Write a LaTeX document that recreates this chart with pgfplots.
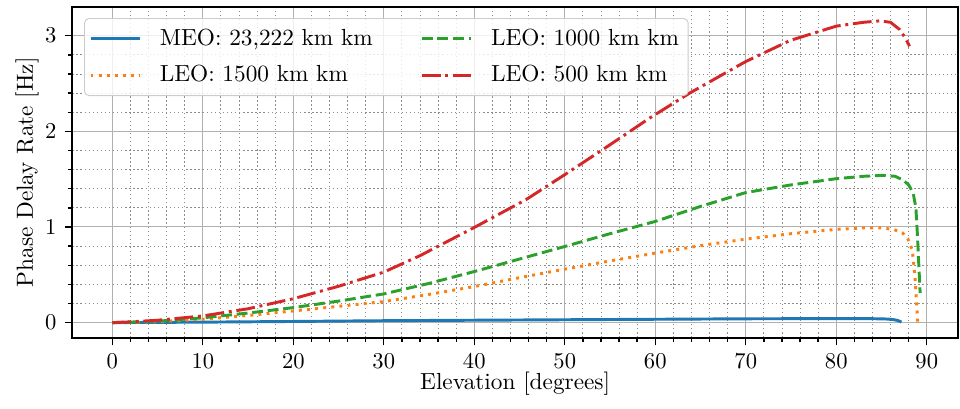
\documentclass[border=0pt]{standalone}
\usepackage{pgfplots}
\pgfplotsset{compat=1.18}
\definecolor{cC0}{HTML}{1F77B4}
\definecolor{cC1}{HTML}{FF7F0E}
\definecolor{cC2}{HTML}{2CA02C}
\definecolor{cC3}{HTML}{D62728}
\definecolor{gridmaj}{HTML}{B0B0B0}
\begin{document}
\fontsize{10.3pt}{12.4pt}\selectfont
\begin{tikzpicture}
\begin{axis}[
  scale only axis,
  width=391.9pt, height=146.3pt,
  xmin=-4.42, xmax=93.45,
  ymin=-0.157, ymax=3.30,
  xtick={0,10,...,90},
  ytick={0,1,2,3},
  minor x tick num=4,
  minor y tick num=4,
  tick pos=left,
  tick align=outside,
  major tick length=3.4pt,
  minor tick length=2pt,
  tick style={black, line width=0.6pt},
  axis line style={black, line width=0.8pt},
  grid=both,
  major grid style={gridmaj, line width=0.45pt, solid},
  minor grid style={black!45, line width=0.4pt, dash pattern=on 0.6pt off 1.2pt},
  xlabel={Elevation [degrees]},
  ylabel={Phase Delay Rate [Hz]},
  xlabel style={at={(axis description cs:0.5,-0.138)}, anchor=center},
  ylabel style={at={(axis description cs:-0.051,0.5)}, anchor=center},
  legend columns=2,
  transpose legend,
  legend cell align=left,
  legend image code/.code={\draw[#1] (0pt,0pt) -- (22pt,0pt); \path (28pt,0pt);},
  legend style={at={(axis description cs:0,1)}, anchor=north west,
    xshift=5.2pt, yshift=-4.9pt, draw=black!20, rounded corners=2pt,
    fill=white, fill opacity=0.8, text opacity=1,
    inner xsep=2pt, inner ysep=2.5pt, row sep=3.5pt,
    font=\fontsize{10.3pt}{12.4pt}\selectfont,
    /tikz/every even column/.append style={column sep=19pt}},
  every axis plot/.append style={line width=1.3pt},
]
\addplot[cC0, solid] coordinates {
(0,0) (10,0.005) (20,0.012) (30,0.02) (40,0.025) (50,0.03) (60,0.035)
(70,0.04) (80,0.042) (84,0.041) (85.5,0.038) (86.3,0.032) (86.8,0.022) (87.2,0.006)
};
\addlegendentry{MEO: 23,222 km km}
\addplot[cC1, dash pattern=on 1.3pt off 2.3pt] coordinates {
(0,0) (5,0.01) (10,0.035) (15,0.075) (20,0.122) (25,0.17) (30,0.22) (35,0.295)
(40,0.377) (45,0.47) (50,0.559) (55,0.645) (60,0.727) (65,0.805) (70,0.873)
(75,0.93) (80,0.975) (83,0.99) (85,0.99) (86.3,0.975) (87.3,0.94) (87.9,0.88)
(88.4,0.76) (88.7,0.48) (88.9,0.17) (89.0,0.0)
};
\addlegendentry{LEO: 1500 km km}
\addplot[cC2, dash pattern=on 4.8pt off 2.1pt] coordinates {
(0,0) (5,0.015) (10,0.05) (15,0.1) (20,0.157) (25,0.225) (30,0.30) (35,0.41)
(40,0.534) (45,0.665) (50,0.796) (55,0.93) (60,1.058) (65,1.215) (70,1.36)
(75,1.44) (80,1.505) (83,1.53) (85.2,1.54) (86.5,1.53) (87.4,1.49) (88.0,1.44)
(88.5,1.355) (88.8,1.2) (88.95,0.95) (89.1,0.65) (89.27,0.31)
};
\addlegendentry{LEO: 1000 km km}
\addplot[cC3, dash pattern=on 8.3pt off 2.1pt on 1.3pt off 2.1pt] coordinates {
(0,0) (2,0.008) (5,0.025) (10,0.07) (15,0.145) (20,0.25) (25,0.38) (30,0.528)
(34,0.70) (40,0.995) (45.7,1.285) (50,1.547) (55,1.86) (59.4,2.14) (63.8,2.40)
(70,2.73) (74.9,2.95) (80,3.10) (83,3.14) (84.8,3.155) (86,3.14) (87,3.065)
(87.6,2.98) (88.1,2.89)
};
\addlegendentry{LEO: 500 km km}
\end{axis}
\path[use as bounding box] ([xshift=-32.0pt,yshift=-31.55pt]current axis.south west) rectangle ([xshift=0.9pt,yshift=3.1pt]current axis.north east);
\end{tikzpicture}
\end{document}
